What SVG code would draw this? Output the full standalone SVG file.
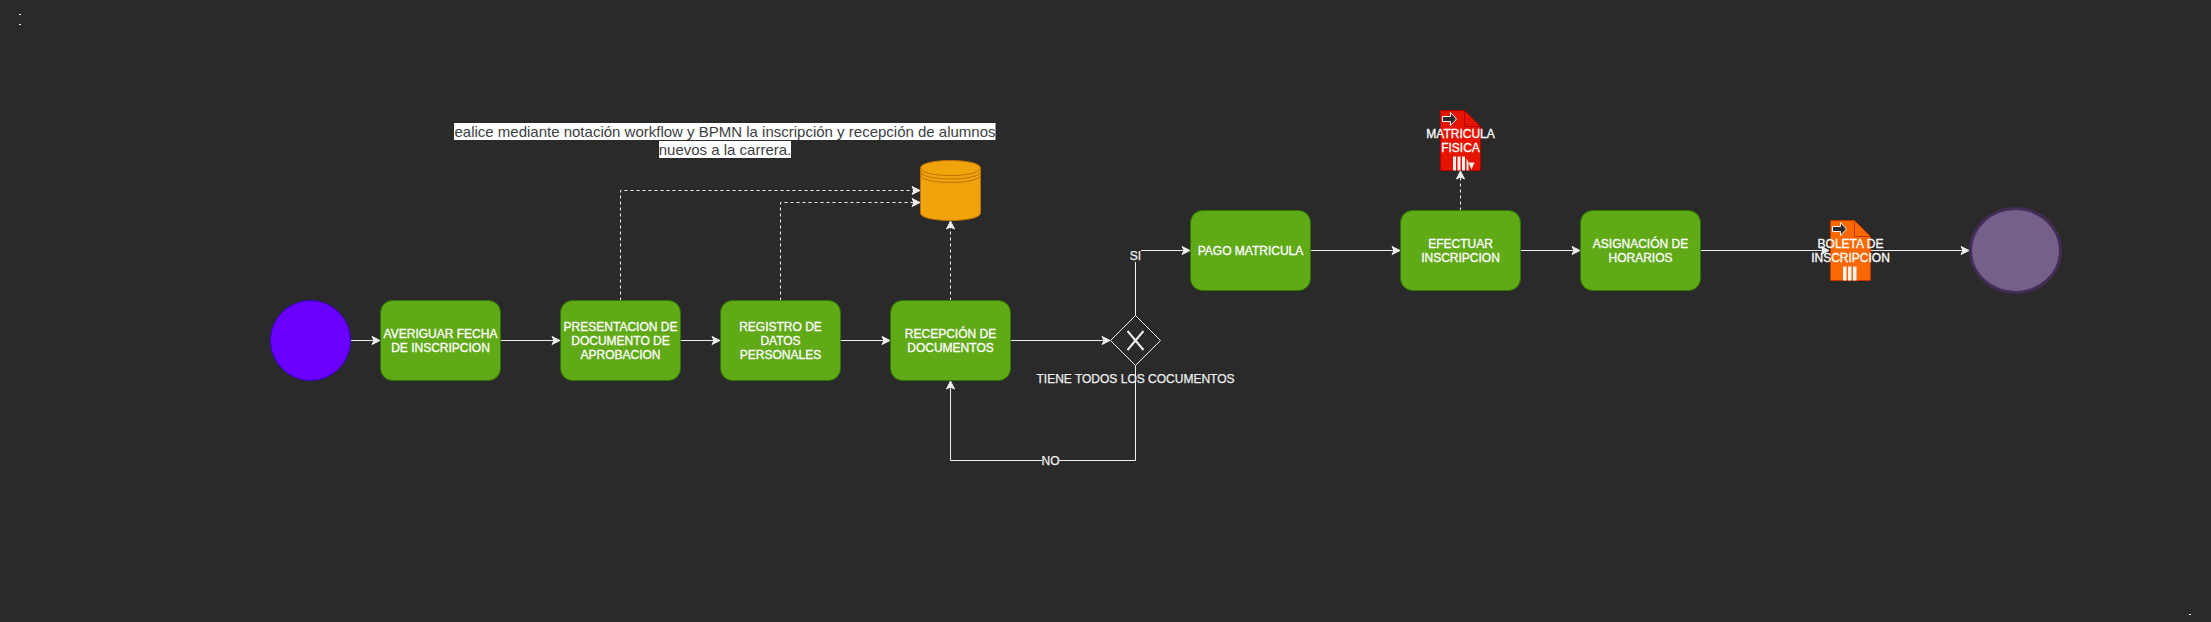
<svg xmlns="http://www.w3.org/2000/svg" width="2211" height="622" viewBox="0 0 2211 622">
<style>
text{font-family:"Liberation Sans",Arial,sans-serif;font-size:12px;text-anchor:middle}
.t{fill:#ffffff;stroke:#ffffff;stroke-width:.3}
.l{fill:#f0f0f0;stroke:#f0f0f0;stroke-width:.25}
.p{fill:#60a917;stroke:#2d7600;stroke-width:1}
.e{fill:none;stroke:#f0f0f0;stroke-width:1;marker-end:url(#a)}
.d{stroke-dasharray:3 3}
.send{fill:#2a2a2a;stroke:#f0f0f0;stroke-width:1}
.bar{fill:#f0f0f0}
.hl{fill:#ffffff}
.q{font-size:15px;fill:#3c4043}
</style>
<defs>
<marker id="a" markerUnits="userSpaceOnUse" markerWidth="10" markerHeight="10" viewBox="-9 -5 10 10" refX="0" refY="0" orient="auto">
<path d="M-8,-4 L0,0 L-8,4 L-6,0 Z" fill="#f0f0f0" stroke="#f0f0f0" stroke-width="1"/>
</marker>
</defs>
<rect width="2211" height="622" fill="#2a2a2a"/>
<g id="connectors">
<path class="e" d="M351,340.5H380"/>
<path class="e" d="M500.5,340.5H560"/>
<path class="e" d="M680.5,340.5H720"/>
<path class="e" d="M840.5,340.5H890"/>
<path class="e" d="M1010.5,340.5H1110"/>
<path class="e" d="M1135.5,315.5V250.5H1190"/>
<path class="e" d="M1135.5,365.5V460.5H950.5V381"/>
<path class="e" d="M1310.5,250.5H1400"/>
<path class="e" d="M1520.5,250.5H1580"/>
<path class="e" d="M1700.5,250.5H1829"/>
<path class="e" d="M1870.5,250.5H1969"/>
<path class="e d" d="M620.5,300.5V190.5H920"/>
<path class="e d" d="M780.5,300.5V202.5H920"/>
<path class="e d" d="M950.5,300.5V221"/>
<path class="e d" d="M1460.5,210.5V171"/>
<g id="label-si"><rect x="1130" y="249" width="11" height="13" fill="#2a2a2a"/><text class="l" x="1135.5" y="259.5">SI</text></g>
<g id="label-no"><rect x="1042" y="454" width="17" height="13" fill="#2a2a2a"/><text class="l" x="1050.5" y="464.5">NO</text></g>
</g>
<g id="note">
<rect class="hl" x="454" y="123" width="541.500" height="17"/>
<rect class="hl" x="659" y="141" width="132" height="17"/>
<text class="q" x="725" y="136.500">ealice mediante notación workflow y BPMN la inscripción y recepción de alumnos</text>
<text class="q" x="725" y="154.500">nuevos a la carrera.</text>
</g>
<g id="start"><circle cx="310.500" cy="340.500" r="40" fill="#6a00ff" stroke="#3700cc"/></g>
<g id="averiguar"><rect class="p" x="380.500" y="300.500" width="120" height="80" rx="12"/><text class="t" x="440.500" y="338">AVERIGUAR FECHA</text><text class="t" x="440.500" y="352">DE INSCRIPCION</text></g>
<g id="presentacion"><rect class="p" x="560.500" y="300.500" width="120" height="80" rx="12"/><text class="t" x="620.500" y="331">PRESENTACION DE</text><text class="t" x="620.500" y="345">DOCUMENTO DE</text><text class="t" x="620.500" y="359">APROBACION</text></g>
<g id="registro"><rect class="p" x="720.500" y="300.500" width="120" height="80" rx="12"/><text class="t" x="780.500" y="331">REGISTRO DE</text><text class="t" x="780.500" y="345">DATOS</text><text class="t" x="780.500" y="359">PERSONALES</text></g>
<g id="recepcion"><rect class="p" x="890.500" y="300.500" width="120" height="80" rx="12"/><text class="t" x="950.500" y="338">RECEPCIÓN DE</text><text class="t" x="950.500" y="352">DOCUMENTOS</text></g>
<g id="datastore" transform="translate(920.500 160.500)">
<path d="M0,7.500C0,-2.500 60,-2.500 60,7.500V52.500C60,62.500 0,62.500 0,52.500Z" fill="#f0a30a" stroke="#bd7000"/>
<path d="M0,7.500C0,17.500 60,17.500 60,7.500M0,11C0,21 60,21 60,11M0,14.500C0,24.500 60,24.500 60,14.500" fill="none" stroke="#bd7000"/>
</g>
<g id="gateway">
<path d="M1135.500,315.500L1160.500,340.500L1135.500,365.500L1110.500,340.500Z" fill="#2a2a2a" stroke="#f0f0f0"/>
<path d="M1127.500,331L1143.500,350M1143.500,331L1127.500,350" fill="none" stroke="#f0f0f0" stroke-width="2"/>
<text class="l" x="1135.500" y="382.500">TIENE TODOS LOS COCUMENTOS</text>
</g>
<g id="pago"><rect class="p" x="1190.500" y="210.500" width="120" height="80" rx="12"/><text class="t" x="1250.500" y="254.500">PAGO MATRICULA</text></g>
<g id="efectuar"><rect class="p" x="1400.500" y="210.500" width="120" height="80" rx="12"/><text class="t" x="1460.500" y="248">EFECTUAR</text><text class="t" x="1460.500" y="262">INSCRIPCION</text></g>
<g id="asignacion"><rect class="p" x="1580.500" y="210.500" width="120" height="80" rx="12"/><text class="t" x="1640.500" y="248">ASIGNACIÓN DE</text><text class="t" x="1640.500" y="262">HORARIOS</text></g>
<g id="matricula" transform="translate(1440.500 110.500)">
<path d="M0,0H24L40,16V60H0Z" fill="#e51400" stroke="#b20000"/>
<path d="M24,0V16H40" fill="none" stroke="#b20000"/>
<path class="send" d="M2,6H10V2L16,8.500L10,15V11H2Z"/>
<rect class="bar" x="12.500" y="46" width="3" height="14"/><rect class="bar" x="17" y="46" width="3" height="14"/><rect class="bar" x="21.500" y="46" width="3" height="14"/>
<path class="bar" d="M26,48V60H28V52H34L31,59L28,52Z"/>
<text class="t" x="20" y="27">MATRICULA</text><text class="t" x="20" y="41">FISICA</text>
</g>
<g id="boleta" transform="translate(1830.500 220.500)">
<path d="M0,0H24L40,16V60H0Z" fill="#fa6800" stroke="#c73500"/>
<path d="M24,0V16H40" fill="none" stroke="#c73500"/>
<path class="send" d="M2,6H10V2L16,8.500L10,15V11H2Z"/>
<rect class="bar" x="12.500" y="46" width="3.500" height="14"/><rect class="bar" x="17.500" y="46" width="3.500" height="14"/><rect class="bar" x="22.500" y="46" width="3.500" height="14"/>
<text class="t" x="20" y="27">BOLETA DE</text><text class="t" x="20" y="41">INSCRIPCION</text>
</g>
<g id="end"><ellipse cx="2015.500" cy="250.500" rx="45" ry="42" fill="#76608a" stroke="#432d57" stroke-width="3"/></g>
<g id="marks"><rect x="19" y="14" width="2" height="1" fill="#f0f0f0"/><rect x="19" y="24" width="2" height="1" fill="#f0f0f0"/><rect x="2189" y="614" width="2" height="1" fill="#f0f0f0"/></g>
</svg>
